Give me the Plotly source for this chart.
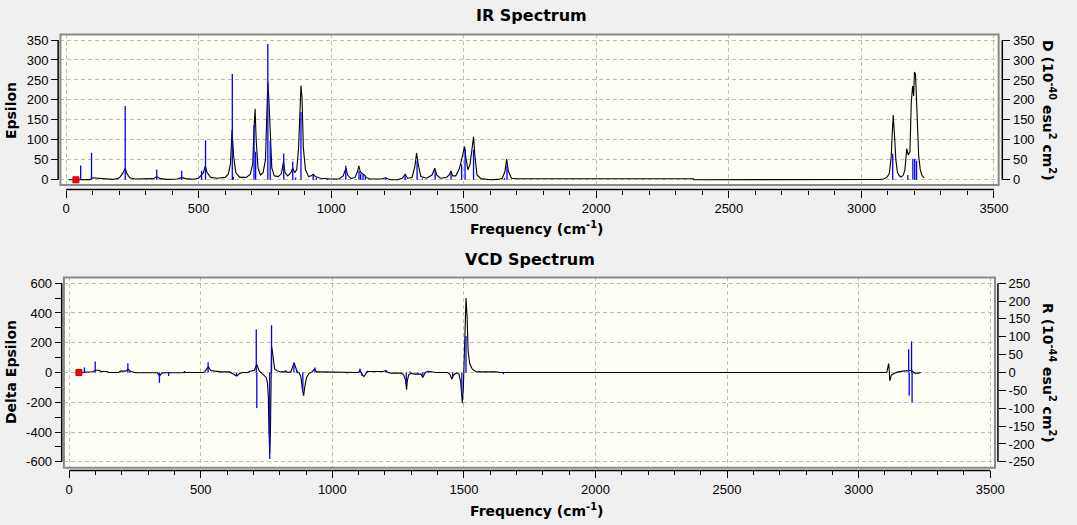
import plotly.graph_objects as go

# ---- IR spectrum ----
# stick spectrum (right axis, D in 10^-40 esu^2 cm^2)
ir_stick_freq = [55, 96, 223, 342, 380, 436, 470, 511, 526, 627, 631, 709, 715, 761, 770,
                 821, 855, 866, 886, 932, 944, 985, 1010, 1055, 1105, 1111, 1120, 1129,
                 1206, 1247, 1279, 1324, 1344, 1392, 1452, 1492, 1505, 1537, 1654, 1663,
                 3118, 3175, 3194, 3201, 3208]
ir_stick_d = [36, 68, 185, 26, 2, 23, 2, 23, 99, 265, 8, 137, 70, 340, 98,
              66, 46, 6, 170, 13, 5, 2, 2, 35, 22, 16, 13, 10,
              5, 2, 12, 48, 3, 24, 18, 39, 77, 75, 4, 35,
              65, 12, 53, 53, 48]

# broadened spectrum (left axis, Epsilon)
ir_curve_freq = [10, 50, 90, 100, 125, 150, 175, 195, 205, 215, 223, 230, 240, 260, 300,
                 330, 342, 355, 380, 420, 436, 450, 480, 500, 510, 518, 525, 532, 545,
                 570, 600, 612, 620, 626, 632, 640, 655, 680, 695, 704, 709, 713, 717,
                 724, 733, 743, 752, 757, 761, 765, 770, 776, 785, 800, 812, 820, 826,
                 836, 848, 855, 862, 870, 877, 882, 886, 890, 895, 903, 915, 925, 932,
                 940, 960, 1000, 1030, 1045, 1052, 1056, 1062, 1075, 1090, 1100, 1104,
                 1110, 1118, 1125, 1132, 1145, 1190, 1205, 1215, 1225, 1250, 1268, 1279,
                 1288, 1305, 1316, 1322, 1328, 1338, 1360, 1380, 1391, 1398, 1412, 1435,
                 1445, 1452, 1458, 1470, 1482, 1490, 1497, 1503, 1508, 1516, 1524, 1531,
                 1537, 1542, 1550, 1565, 1600, 1630, 1645, 1655, 1662, 1668, 1680, 1700,
                 2000, 2367, 2368, 3050, 3070, 3083, 3096, 3105, 3112, 3117, 3120, 3124,
                 3130, 3136, 3143, 3150, 3158, 3164, 3171, 3177, 3183, 3188, 3193, 3197,
                 3200, 3204, 3210, 3216, 3222, 3228, 3236]
ir_curve_eps = [0, 0, 0.5, 5, 4, 2, 1, 3, 8, 18, 29, 15, 5, 2, 1.5,
                3, 8, 3, 1, 2, 6, 3, 1.5, 4, 12, 18, 35, 18, 6,
                4, 6, 14, 40, 125, 60, 18, 6, 6, 14, 40, 130, 178, 100,
                30, 12, 18, 50, 190, 244, 200, 100, 30, 10, 8, 15, 45, 18,
                10, 18, 30, 18, 25, 80, 170, 236, 205, 80, 25, 8, 10, 14,
                8, 4, 2, 2, 10, 22, 29, 12, 3, 6, 22, 35,
                20, 15, 12, 6, 2, 2, 5, 2, 0, 0, 4, 14,
                4, 6, 35, 67, 40, 8, 4, 12, 29, 12, 4, 6,
                12, 22, 10, 10, 25, 45, 70, 83, 55, 25, 40, 80,
                108, 60, 12, 3, 0, 1, 4, 20, 52, 22, 4, 2.5,
                2.5, 2.5, 0, 0, 1, 2, 6, 15, 55, 125, 162, 120,
                50, 18, 10, 7, 12, 25, 78, 62, 70, 193, 235, 210,
                270, 265, 170, 60, 25, 12, 5]

# ---- VCD spectrum ----
# rotational strengths (right axis, R in 10^-44 esu^2 cm^2)
vcd_stick_freq = [58, 99, 223, 230, 343, 378, 438, 528, 636, 711, 713, 762, 769,
                  822, 854, 866, 888, 934, 980, 1008, 1057, 1105, 1112, 1133, 1203,
                  1281, 1296, 1325, 1344, 1364, 1457, 1492, 1508, 1548, 1650, 1665,
                  3190, 3192, 3201, 3203]
vcd_stick_r = [14, 31, 26, 3, -29, -10, 4, 29, -9, 121, -99, -242, 132,
               5, 28, 6, -50, 14, 2, 2, -3, 11, -9, 5, 5,
               -32, 3, -5, -9, 5, -14, -56, 102, 2, -5, 2,
               65, -65, 87, -83]

# broadened spectrum (left axis, Delta Epsilon)
vcd_curve_freq = [38, 76, 90, 100, 114, 120, 145, 149, 189, 195, 214, 224, 233, 245,
                  252, 335, 344, 352, 365, 427, 440, 509, 515, 529, 538, 553, 578,
                  609, 616, 637, 647, 660, 679, 685, 704, 713, 722, 731, 741, 749,
                  754, 757, 759, 762, 765, 767, 769, 772, 776, 781, 791, 804, 816,
                  823, 829, 842, 850, 855, 862, 867, 874, 881, 886, 891, 895, 902,
                  911, 923, 932, 940, 948, 1036, 1099, 1105, 1112, 1120, 1127, 1133,
                  1193, 1203, 1212, 1224, 1262, 1271, 1279, 1282, 1285, 1290, 1300,
                  1312, 1337, 1344, 1350, 1356, 1369, 1394, 1438, 1446, 1454, 1460,
                  1472, 1481, 1488, 1492, 1494, 1498, 1502, 1506, 1508, 1512, 1516,
                  1522, 1532, 1545, 1558, 1620, 1640, 3107, 3111, 3114, 3116, 3118,
                  3121, 3124, 3134, 3150, 3170, 3189, 3202, 3209, 3214, 3227, 3236]
vcd_curve_deps = [0, 0, 5, 15, 15, 7, 7, 0, 0, 9, 9, 22, 8, 2,
                  -2, -2, -22, -4, -2, -2, 0, 0, 4, 38, 13, 9, 4,
                  4, -2, -24, -7, 0, 0, 7, 15, 55, 11, -4, -15, -33,
                  -78, -167, -378, -544, -380, 0, 178, 144, 89, 22, 11, 4, 4,
                  11, 0, 4, 40, 64, 27, 0, -2, -33, -111, -156, -100, -33,
                  -7, 4, 22, 4, 4, 4, 0, 15, -11, -27, -4, 7,
                  7, 13, 0, -4, -4, -16, -56, -116, -56, -16, -4,
                  -11, -11, -33, -11, 4, 7, 0, 0, -11, -44, -18,
                  -2, -11, -67, -178, -207, -100, 156, 389, 500, 378, 144,
                  60, 22, 7, 4, 4, 0, 0, 33, 60, 22, -55,
                  -40, -18, -7, 4, 9, 13, 15, 0, -4, -4, 0]

# tick labels
ir_eps_ticks = [0, 50, 100, 150, 200, 250, 300, 350]
vcd_eps_ticks = [-600, -400, -200, 0, 200, 400, 600]
vcd_r_ticks = [-250, -200, -150, -100, -50, 0, 50, 100, 150, 200, 250]
freq_ticks = [0, 500, 1000, 1500, 2000, 2500, 3000, 3500]

marker_freq = [37]
marker_val = [0]

W, H = 1077, 525
TICK_FONT = dict(family="Liberation Sans", size=13, color="black")
TITLE_FONT = dict(family="DejaVu Sans", size=14, color="black")
GRID = dict(showgrid=True, gridcolor="#BDBDBD", griddash="4px,3px", gridwidth=1)


def sticks(freqs, vals):
    xs, ys = [], []
    for f, v in zip(freqs, vals):
        xs += [f, f, None]
        ys += [0, v, None]
    return xs, ys


def labels(vals):
    return [str(v) for v in vals]


def px(x):
    return x / W


def py(y):
    return 1 - y / H


fig = go.Figure()

sx, sy = sticks(ir_stick_freq, ir_stick_d)
fig.add_trace(go.Scatter(x=sx, y=sy, mode="lines", line=dict(color="#0000FF", width=1.3),
                         xaxis="x", yaxis="y2", hoverinfo="skip"))
fig.add_trace(go.Scatter(x=ir_curve_freq, y=ir_curve_eps, mode="lines",
                         line=dict(color="black", width=1.1), xaxis="x", yaxis="y"))
fig.add_trace(go.Scatter(x=marker_freq, y=marker_val, mode="markers", xaxis="x", yaxis="y",
                         marker=dict(symbol="square", size=6, color="#FF0000",
                                     line=dict(color="#D00000", width=1))))

sx, sy = sticks(vcd_stick_freq, vcd_stick_r)
fig.add_trace(go.Scatter(x=sx, y=sy, mode="lines", line=dict(color="#0000FF", width=1.3),
                         xaxis="x2", yaxis="y4", hoverinfo="skip"))
fig.add_trace(go.Scatter(x=vcd_curve_freq, y=vcd_curve_deps, mode="lines",
                         line=dict(color="black", width=1.1), xaxis="x2", yaxis="y3"))
fig.add_trace(go.Scatter(x=marker_freq, y=marker_val, mode="markers", xaxis="x2", yaxis="y3",
                         marker=dict(symbol="square", size=6, color="#FF0000",
                                     line=dict(color="#D00000", width=1))))

xcommon = dict(tickmode="array", tickvals=freq_ticks, ticktext=labels(freq_ticks),
               ticks="outside", ticklen=7, tickcolor="black", tickwidth=1,
               tickfont=TICK_FONT, showline=False, zeroline=False, anchor="free",
               minor=dict(dtick=100, tick0=0, ticks="outside", ticklen=4,
                          tickcolor="black", showgrid=False), **GRID)
ycommon = dict(ticks="outside", ticklen=7, tickcolor="black", tickwidth=1,
               tickfont=TICK_FONT, showline=False, zeroline=False, anchor="free",
               tickmode="array")

ir_box = (61, 32.7, 1008, 184.3)
vcd_box = (64.5, 277.5, 1004.3, 469.2)

fig.update_layout(
    width=W, height=H, margin=dict(l=0, r=0, t=0, b=0),
    paper_bgcolor="#F0F0F0", plot_bgcolor="#FEFEF4", showlegend=False,
    xaxis=dict(domain=[px(ir_box[0]), px(ir_box[2])], range=[-21.3, 3517.6],
               position=py(189), **xcommon),
    yaxis=dict(domain=[py(ir_box[3]), py(ir_box[1])], range=[-12.7, 363.9],
               position=px(58.7), tickvals=ir_eps_ticks, ticktext=labels(ir_eps_ticks),
               **GRID, **ycommon),
    yaxis2=dict(overlaying="y", side="right", range=[-12.7, 363.9], position=px(1011.7),
                tickvals=ir_eps_ticks, ticktext=labels(ir_eps_ticks), showgrid=False,
                **ycommon),
    xaxis2=dict(domain=[px(vcd_box[0]), px(vcd_box[2])], range=[-20, 3518],
                position=py(472), **xcommon),
    yaxis3=dict(domain=[py(vcd_box[3]), py(vcd_box[1])], range=[-639, 639],
                position=px(62.3), tickvals=vcd_eps_ticks, ticktext=labels(vcd_eps_ticks),
                minor=dict(dtick=100, tick0=0, ticks="outside", ticklen=7,
                           tickcolor="black", showgrid=False),
                **GRID, **ycommon),
    yaxis4=dict(overlaying="y3", side="right", range=[-266.2, 266.2], position=px(1007.3),
                tickvals=vcd_r_ticks, ticktext=labels(vcd_r_ticks), showgrid=False,
                **ycommon),
)

# plot frames and axis lines
shapes = []
for x0, y0, x1, y1 in (ir_box, vcd_box):
    shapes.append(dict(type="rect", xref="paper", yref="paper", x0=px(x0), x1=px(x1),
                       y0=py(y1), y1=py(y0), line=dict(color="#8A8A8A", width=2)))
axis_line = dict(color="black", width=1.5)
shapes += [
    dict(type="line", xref="x", yref="paper", x0=0, x1=3500, y0=py(189), y1=py(189), line=axis_line),
    dict(type="line", xref="paper", yref="y", x0=px(58.7), x1=px(58.7), y0=0, y1=350, line=axis_line),
    dict(type="line", xref="paper", yref="y2", x0=px(1011.7), x1=px(1011.7), y0=0, y1=350, line=axis_line),
    dict(type="line", xref="x2", yref="paper", x0=0, x1=3500, y0=py(472), y1=py(472), line=axis_line),
    dict(type="line", xref="paper", yref="y3", x0=px(62.3), x1=px(62.3), y0=-600, y1=600, line=axis_line),
    dict(type="line", xref="paper", yref="y4", x0=px(1007.3), x1=px(1007.3), y0=-250, y1=250, line=axis_line),
]
fig.update_layout(shapes=shapes)

texts = [
    ("<b>IR Spectrum</b>", 536, 14, 0, 16),
    ("<b>VCD Spectrum</b>", 535, 259.5, 0, 16),
    ("<b>Frequency (cm<sup>-1</sup>)</b>", 542, 228, 0, 14),
    ("<b>Frequency (cm<sup>-1</sup>)</b>", 542, 511.5, 0, 14),
    ("<b>Epsilon</b>", 11, 109, -90, 14),
    ("<b>Delta Epsilon</b>", 11, 373, -90, 14),
    ("<b>D (10<sup>-40</sup> esu<sup>2</sup> cm<sup>2</sup>)</b>", 1059, 109, 90, 14),
    ("<b>R (10<sup>-44</sup> esu<sup>2</sup> cm<sup>2</sup>)</b>", 1059, 374, 90, 14),
]
for txt, x, y, ang, size in texts:
    fig.add_annotation(text=txt, x=px(x), y=py(y), xref="paper", yref="paper",
                       xanchor="center", yanchor="middle", showarrow=False,
                       textangle=ang, font=dict(TITLE_FONT, size=size))

# drop the default page margin so the figure sits at the window origin
fig.write_html("out.html", config={"displayModeBar": False},
               post_script="document.body.style.margin='0';document.body.style.overflow='hidden';")
